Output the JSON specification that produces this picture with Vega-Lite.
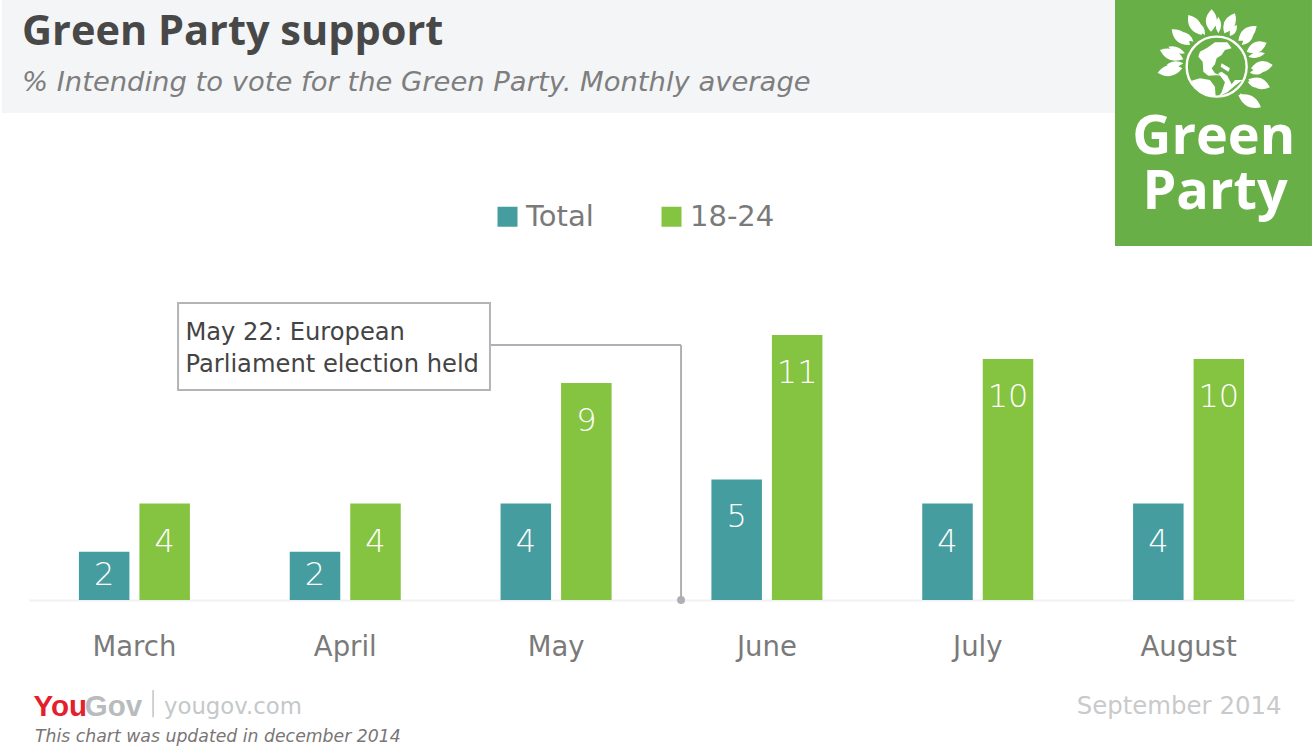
{
"$schema":"https://vega.github.io/schema/vega-lite/v6.json",
"width":1315,"height":750,"padding":0,"autosize":{"type":"none"},
"background":"white",
"title":{"text":"Green Party support","subtitle":"% Intending to vote for the Green Party. Monthly average","anchor":"start","frame":"group","dx":22,"offset":-96,"font":"Open Sans","fontSize":41.5,"fontWeight":"bold","color":"#484848","subtitleFont":"DejaVu Sans","subtitleFontStyle":"italic","subtitleFontSize":27.4,"subtitleColor":"#7e7e7e","subtitlePadding":15},
"config":{"view":{"stroke":null},"font":"DejaVu Sans"},
"data":{"values":[
{"month":"March","series":"Total","value":2},{"month":"March","series":"18-24","value":4},
{"month":"April","series":"Total","value":2},{"month":"April","series":"18-24","value":4},
{"month":"May","series":"Total","value":4},{"month":"May","series":"18-24","value":9},
{"month":"June","series":"Total","value":5},{"month":"June","series":"18-24","value":11},
{"month":"July","series":"Total","value":4},{"month":"July","series":"18-24","value":10},
{"month":"August","series":"Total","value":4},{"month":"August","series":"18-24","value":10}
]},
"resolve":{"scale":{"x":"independent","color":"shared"}},
"layer":[
{"data":{"values":[{"part":"header"}]},"mark":{"type":"rect","fill":"#F4F5F7"},
 "encoding":{"x":{"datum":0.152,"type":"quantitative","scale":{"domain":[0,100],"range":[0,1315]},"axis":null},"x2":{"datum":84.79},"y":{"datum":24.896,"type":"quantitative","scale":{"domain":[-6.224,24.896],"nice":false,"zero":false,"range":[750,0]},"axis":null},"y2":{"datum":20.21}}},
{"data":{"values":[{"part":"logo"}]},"mark":{"type":"rect","fill":"#69AF47"},
 "encoding":{"x":{"datum":84.79,"type":"quantitative","scale":{"domain":[0,100],"range":[0,1315]},"axis":null},"x2":{"datum":99.77},"y":{"datum":24.896,"type":"quantitative","axis":null},"y2":{"datum":14.69}}},
{"data":{"values":[{"part":"sun"}]},"mark":{"type":"point","filled":true,"fill":"white","opacity":1,"size":4,"strokeWidth":0,"shape":"M-5.7 -35Q-16.3 -46 -5 -57.3Q5.7 -46 -5.7 -35ZM-15 -31.7Q-12.5 -47.7 -28.3 -51.7Q-30.9 -35.7 -15 -31.7ZM7.7 -33.3Q22.8 -38.1 18.3 -53.3Q3.2 -48.5 7.7 -33.3ZM-26.7 -21.7Q-28.6 -37.9 -45 -37.3Q-43 -21.1 -26.7 -21.7ZM21.7 -26Q37.7 -24.8 40 -40.7Q23.9 -41.8 21.7 -26ZM-33.3 -7.3Q-40.9 -22.2 -56.7 -16.7Q-49.1 -1.8 -33.3 -7.3ZM30 -15Q44.5 -9.5 50 -24Q35.5 -29.5 30 -15ZM-34.3 1.7Q-48.6 -7 -59 6Q-44.8 14.8 -34.3 1.7ZM34.3 1.7Q46.9 10.9 56 -1.7Q43.5 -10.9 34.3 1.7ZM31.7 12.7Q38.6 27 53.3 20.7Q46.4 6.4 31.7 12.7ZM21.7 28.3Q27.8 44.1 44.3 40.7Q38.2 24.9 21.7 28.3ZM1.7 -33.3Q-3.9 -41.7 1.7 -50Q7.3 -41.7 1.7 -33.3ZM-11.7 -31.7Q-11.1 -41.3 -20 -45Q-20.7 -35.5 -11.7 -31.7ZM13.3 -30.7Q21.5 -33.3 20 -41.7Q11.9 -39.1 13.3 -30.7ZM-23.3 -25Q-25.6 -34.2 -35 -35Q-32.8 -25.8 -23.3 -25ZM25 -21.7Q34.5 -22.5 36.7 -31.7Q27.3 -30.9 25 -21.7ZM-31.7 -13.3Q-37.9 -21.9 -48.3 -20Q-42.1 -11.5 -31.7 -13.3ZM31.7 -10Q41.1 -6.2 48.3 -13.3Q38.9 -17.2 31.7 -10ZM-33.3 -3.3Q-42.3 -8.1 -50 -1.7Q-41.1 3.1 -33.3 -3.3ZM33.3 6Q41.3 10.6 47.7 4Q39.7 -0.6 33.3 6ZM31 15Q35.9 23 45 20.7Q40.1 12.6 31 15ZM23.3 26.7Q25 36.9 35 40Q33.4 29.7 23.3 26.7ZM-16.7 -15L-9.3 -19L-1.7 -24.3L10.7 -24.3L15 -18.3L8.3 -16.7L5 -11.7L0 -8.3L-1.7 -2.3L-5 1.7L-1.7 6.7L3.3 8.3L-8.3 9L-13.3 5L-14 -5L-18.3 -10ZM-26 14.3L-16.7 11.7L-6.7 13.3L-1.7 20L-1 30L-11.7 27.7L-20 22.3ZM1.7 30L10.7 25.7L19.3 18.3L26 13.3L18.3 13.3L15 17.7L10.7 9L5 5L1.7 6.7L8.3 15.7L5 25.7ZM5 -3.3L13.3 1.7L11.7 5L4 0Z"},
 "encoding":{"x":{"datum":92.52,"type":"quantitative","scale":{"domain":[0,100],"range":[0,1315]},"axis":null},"y":{"datum":22.13,"type":"quantitative","axis":null}}},
{"data":{"values":[{"part":"globe"}]},"mark":{"type":"point","filled":false,"shape":"circle","stroke":"white","strokeWidth":2.4,"opacity":1,"size":3600},
 "encoding":{"x":{"datum":92.52,"type":"quantitative","scale":{"domain":[0,100],"range":[0,1315]},"axis":null},"y":{"datum":22.13,"type":"quantitative","axis":null}}},
{"data":{"values":[{"t":"Green"}]},"mark":{"type":"text","font":"Open Sans","fontWeight":"bold","fontSize":54,"fill":"white","align":"center","baseline":"alphabetic"},
 "encoding":{"text":{"field":"t"},"x":{"datum":92.3,"type":"quantitative","scale":{"domain":[0,100],"range":[0,1315]},"axis":null},"y":{"datum":18.5,"type":"quantitative","axis":null}}},
{"data":{"values":[{"t":"Party"}]},"mark":{"type":"text","font":"Open Sans","fontWeight":"bold","fontSize":54,"fill":"white","align":"center","baseline":"alphabetic"},
 "encoding":{"text":{"field":"t"},"x":{"datum":92.4,"type":"quantitative","scale":{"domain":[0,100],"range":[0,1315]},"axis":null},"y":{"datum":16.22,"type":"quantitative","axis":null}}},
{"mark":{"type":"bar"},
 "encoding":{
  "x":{"field":"month","type":"nominal","title":null,"scale":{"domain":["March","April","May","June","July","August"],"range":[29,1294],"paddingInner":0,"paddingOuter":0},"axis":{"offset":-150,"labelAngle":0,"labelPadding":33,"labelFontSize":27.5,"labelColor":"#7a7a7a","labelFont":"DejaVu Sans","ticks":false,"domainColor":"#F0F1F3","domainWidth":2,"grid":false}},
  "xOffset":{"field":"series","scale":{"domain":["Total","18-24"],"paddingInner":0.165,"paddingOuter":0.825}},
  "y":{"field":"value","type":"quantitative","axis":null},
  "color":{"field":"series","type":"nominal","sort":["Total","18-24"],"scale":{"domain":["Total","18-24"],"range":["#459DA0","#85C440"]},"legend":{"title":null,"orient":"none","legendX":493,"legendY":202,"direction":"horizontal","symbolType":"square","symbolSize":400,"symbolStrokeWidth":0,"symbolOpacity":1,"labelFontSize":29,"labelColor":"#7a7a7a","labelFont":"DejaVu Sans","columnPadding":63,"labelOffset":4}}
 }},
{"transform":[{"filter":"datum.value > 2"}],"mark":{"type":"text","color":"white","fontSize":32,"fontWeight":200,"baseline":"middle","dy":38},
 "encoding":{
  "x":{"field":"month","type":"nominal","scale":{"domain":["March","April","May","June","July","August"],"range":[29,1294],"paddingInner":0,"paddingOuter":0},"axis":null},
  "xOffset":{"field":"series","scale":{"domain":["Total","18-24"],"paddingInner":0.165,"paddingOuter":0.825}},
  "y":{"field":"value","type":"quantitative","axis":null},
  "text":{"field":"value","type":"quantitative"}}},
{"transform":[{"filter":"datum.value <= 2"}],"mark":{"type":"text","color":"white","fontSize":32,"fontWeight":200,"baseline":"middle","dy":23},
 "encoding":{
  "x":{"field":"month","type":"nominal","scale":{"domain":["March","April","May","June","July","August"],"range":[29,1294],"paddingInner":0,"paddingOuter":0},"axis":null},
  "xOffset":{"field":"series","scale":{"domain":["Total","18-24"],"paddingInner":0.165,"paddingOuter":0.825}},
  "y":{"field":"value","type":"quantitative","axis":null},
  "text":{"field":"value","type":"quantitative"}}},
{"data":{"values":[{"part":"leader"}]},"mark":{"type":"rule","color":"#AEB0B5","strokeWidth":2},
 "encoding":{"x":{"datum":37.26,"type":"quantitative","scale":{"domain":[0,100],"range":[0,1315]},"axis":null},"x2":{"datum":51.79},"y":{"datum":10.58,"type":"quantitative","axis":null}}},
{"data":{"values":[{"part":"leader"}]},"mark":{"type":"rule","color":"#AEB0B5","strokeWidth":2},
 "encoding":{"x":{"datum":51.79,"type":"quantitative","scale":{"domain":[0,100],"range":[0,1315]},"axis":null},"y":{"datum":10.58,"type":"quantitative","axis":null},"y2":{"datum":0}}},
{"data":{"values":[{"part":"dot"}]},"mark":{"type":"point","filled":true,"shape":"circle","color":"#AEB0B5","opacity":1,"size":64},
 "encoding":{"x":{"datum":51.79,"type":"quantitative","scale":{"domain":[0,100],"range":[0,1315]},"axis":null},"y":{"datum":0,"type":"quantitative","axis":null}}},
{"data":{"values":[{"part":"box"}]},"mark":{"type":"rect","fill":"white","stroke":"#B2B4B8","strokeWidth":2},
 "encoding":{"x":{"datum":13.54,"type":"quantitative","scale":{"domain":[0,100],"range":[0,1315]},"axis":null},"x2":{"datum":37.26},"y":{"datum":12.32,"type":"quantitative","axis":null},"y2":{"datum":8.71}}},
{"data":{"values":[{"t":"May 22: European\nParliament election held"}]},"mark":{"type":"text","align":"left","baseline":"alphabetic","lineBreak":"\n","lineHeight":32,"fontSize":24.2,"fill":"#444444","font":"DejaVu Sans"},
 "encoding":{"text":{"field":"t"},"x":{"datum":14.1,"type":"quantitative","scale":{"domain":[0,100],"range":[0,1315]},"axis":null},"y":{"datum":10.79,"type":"quantitative","axis":null}}},
{"data":{"values":[{"t":"You"}]},"mark":{"type":"text","align":"left","baseline":"alphabetic","fontSize":29.5,"fontWeight":"bold","fill":"#E4202C","font":"Liberation Sans"},
 "encoding":{"text":{"field":"t"},"x":{"datum":2.55,"type":"quantitative","scale":{"domain":[0,100],"range":[0,1315]},"axis":null},"y":{"datum":-4.8,"type":"quantitative","axis":null}}},
{"data":{"values":[{"t":"Gov"}]},"mark":{"type":"text","align":"left","baseline":"alphabetic","fontSize":29.5,"fontWeight":"bold","fill":"#B8BCBE","font":"Liberation Sans"},
 "encoding":{"text":{"field":"t"},"x":{"datum":6.45,"type":"quantitative","scale":{"domain":[0,100],"range":[0,1315]},"axis":null},"y":{"datum":-4.8,"type":"quantitative","axis":null}}},
{"data":{"values":[{"part":"sep"}]},"mark":{"type":"rule","color":"#C0C4C6","strokeWidth":1.5},
 "encoding":{"x":{"datum":11.64,"type":"quantitative","scale":{"domain":[0,100],"range":[0,1315]},"axis":null},"y":{"datum":-3.73,"type":"quantitative","axis":null},"y2":{"datum":-4.87}}},
{"data":{"values":[{"t":"yougov.com"}]},"mark":{"type":"text","align":"left","baseline":"alphabetic","fontSize":22.8,"fill":"#C4C8CA","font":"DejaVu Sans"},
 "encoding":{"text":{"field":"t"},"x":{"datum":12.47,"type":"quantitative","scale":{"domain":[0,100],"range":[0,1315]},"axis":null},"y":{"datum":-4.73,"type":"quantitative","axis":null}}},
{"data":{"values":[{"t":"This chart was updated in december 2014"}]},"mark":{"type":"text","align":"left","baseline":"alphabetic","fontSize":17.3,"fontStyle":"italic","fill":"#7A7575","font":"DejaVu Sans"},
 "encoding":{"text":{"field":"t"},"x":{"datum":2.66,"type":"quantitative","scale":{"domain":[0,100],"range":[0,1315]},"axis":null},"y":{"datum":-5.9,"type":"quantitative","axis":null}}},
{"data":{"values":[{"t":"September 2014"}]},"mark":{"type":"text","align":"right","baseline":"alphabetic","fontSize":24.4,"fill":"#C8CACB","font":"DejaVu Sans"},
 "encoding":{"text":{"field":"t"},"x":{"datum":97.45,"type":"quantitative","scale":{"domain":[0,100],"range":[0,1315]},"axis":null},"y":{"datum":-4.73,"type":"quantitative","axis":null}}}
]
}
